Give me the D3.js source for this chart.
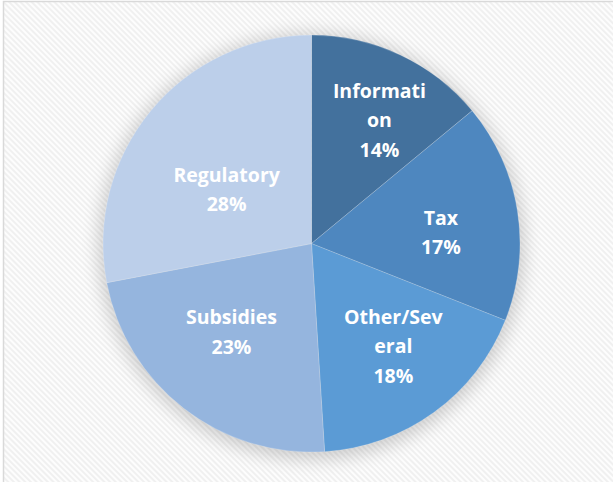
<!DOCTYPE html>
<html>
<head>
<meta charset="utf-8">
<style>
  html, body { margin: 0; padding: 0; background: #fff; }
  .lbl { font-family: "Open Sans", "Noto Sans", sans-serif; font-weight: bold; font-size: 19.5px; fill: #fff; }
</style>
</head>
<body>
<script src="https://cdn.jsdelivr.net/npm/d3@7"></script>
<script>
var categories = ["Information", "Tax", "Other/Several", "Subsidies", "Regulatory"];
var values = [14, 17, 18, 23, 28];
var labelLines = [["Informati", "on"], ["Tax"], ["Other/Sev", "eral"], ["Subsidies"], ["Regulatory"]];
var colors = ["#43719d", "#4e87bf", "#5b9bd5", "#95b5de", "#bccfea"];

var w = 613, h = 482;
var cx = 311.5, cy = 243.6, r = 208.5;
var lineGap = 29.3;
// excel places the labels a bit unevenly, so nudge them
var nudge = [[13, -6], [2, 9.5], [6, -1], [-1, -13], [14.5, 28.5]];

var svg = d3.select("body").append("svg")
  .attr("width", w)
  .attr("height", h);

var defs = svg.append("defs");

var pat = defs.append("pattern")
  .attr("id", "stripes")
  .attr("patternUnits", "userSpaceOnUse")
  .attr("width", 4)
  .attr("height", 4)
  .attr("patternTransform", "rotate(-45)");
pat.append("rect").attr("width", 4).attr("height", 4).attr("fill", "#fdfdfd");
pat.append("rect").attr("width", 2).attr("height", 4).attr("fill", "#f0f0f0");

var f = defs.append("filter")
  .attr("id", "shadow")
  .attr("x", "-30%").attr("y", "-30%")
  .attr("width", "160%").attr("height", "160%");
f.append("feGaussianBlur").attr("stdDeviation", 9);

svg.append("rect")
  .attr("x", 3.5)
  .attr("y", 1.5)
  .attr("width", 630)
  .attr("height", 500)
  .attr("fill", "url(#stripes)")
  .attr("stroke", "#d9d9d9")
  .attr("stroke-width", 1.5);

var g = svg.append("g")
  .attr("transform", "translate(" + cx + "," + cy + ")");

// soft halo under the pie
g.append("circle")
  .attr("cx", 0)
  .attr("cy", 3)
  .attr("r", r + 4)
  .attr("fill", "#000")
  .attr("opacity", 0.18)
  .attr("filter", "url(#shadow)");

var pie = d3.pie().sort(null).value(function(d){ return d; });
var arcs = pie(values);

var arc = d3.arc().innerRadius(0).outerRadius(r);
var labelArc = d3.arc().innerRadius(129).outerRadius(129);

g.selectAll("path.slice")
  .data(arcs)
  .enter().append("path")
  .attr("class", "slice")
  .attr("d", arc)
  .attr("fill", function(d, i){ return colors[i]; })
  .attr("stroke", "#ffffff")
  .attr("stroke-opacity", 0.25)
  .attr("stroke-width", 0.75);

var lbl = g.selectAll("text.lbl")
  .data(arcs)
  .enter().append("text")
  .attr("class", "lbl")
  .attr("text-anchor", "middle")
  .each(function(d, i){
    var c = labelArc.centroid(d);
    var x = c[0] + nudge[i][0];
    var y = c[1] + nudge[i][1];
    var lines = labelLines[i].concat([d.data + "%"]);
    var n = lines.length;
    var t = d3.select(this);
    lines.forEach(function(s, k){
      t.append("tspan")
        .attr("x", x)
        .attr("y", y + (k - (n - 1) / 2) * lineGap + 6.5)
        .text(s);
    });
  });
</script>
</body>
</html>
